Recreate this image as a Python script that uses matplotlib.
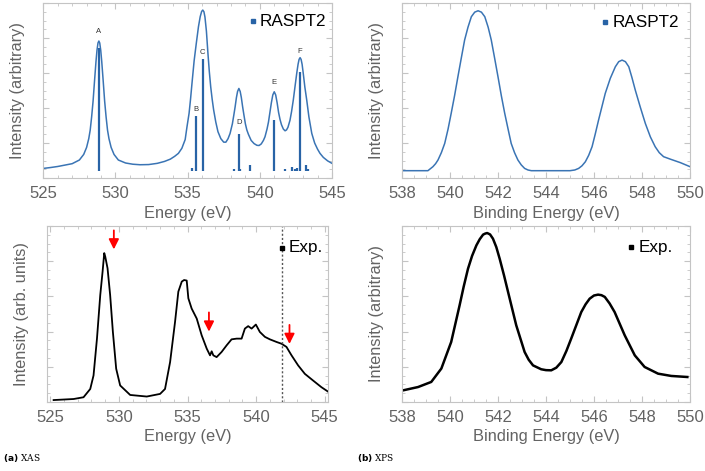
#%% Import necessary libraries
import matplotlib
matplotlib.use('Agg')
import matplotlib.pyplot as plt
from matplotlib.ticker import MultipleLocator, NullFormatter

plt.rcParams['font.family'] = ['Liberation Sans', 'DejaVu Sans']

#%% Data (y in arbitrary units, 0..1)
# (a) XAS - RASPT2 broadened spectrum
xas_calc_e = [525.0, 525.5, 526.0, 526.5, 527.0, 527.5, 527.8, 528.0, 528.15, 528.25,
              528.35, 528.45, 528.55, 528.65, 528.72, 528.79, 528.85, 528.91, 528.98,
              529.05, 529.15, 529.25, 529.35, 529.45, 529.55, 529.7, 529.9, 530.2,
              530.7, 531.2, 531.7, 532.3, 532.9, 533.4, 533.8, 534.1, 534.36, 534.6,
              534.83, 534.95, 535.1, 535.2, 535.3, 535.45, 535.6, 535.75, 535.87,
              535.97, 536.05, 536.13, 536.2, 536.3, 536.4, 536.5, 536.6, 536.7, 536.8,
              536.95, 537.1, 537.3, 537.5, 537.65, 537.8, 537.94, 538.1, 538.2, 538.29,
              538.38, 538.46, 538.55, 538.64, 538.72, 538.81, 538.9, 539.0, 539.1,
              539.21, 539.4, 539.6, 539.8, 539.95, 540.1, 540.25, 540.36, 540.5, 540.6,
              540.7, 540.8, 540.9, 541.0, 541.1, 541.2, 541.3, 541.4, 541.5, 541.63,
              541.75, 541.85, 541.95, 542.09, 542.2, 542.32, 542.45, 542.56, 542.65,
              542.72, 542.79, 542.86, 542.93, 543.01, 543.12, 543.25, 543.4, 543.6,
              543.8, 544.0, 544.17, 544.4, 544.7, 545.0]
xas_calc_i = [0.055, 0.060, 0.066, 0.074, 0.082, 0.103, 0.135, 0.175, 0.225, 0.274,
              0.350, 0.440, 0.555, 0.665, 0.730, 0.772, 0.783, 0.772, 0.730,
              0.665, 0.555, 0.440, 0.350, 0.274, 0.225, 0.175, 0.135, 0.103,
              0.086, 0.079, 0.076, 0.077, 0.084, 0.095, 0.108, 0.124, 0.141, 0.170,
              0.220, 0.290, 0.370, 0.450, 0.540, 0.670, 0.770, 0.865, 0.922,
              0.952, 0.960, 0.950, 0.920, 0.840, 0.720, 0.610, 0.520, 0.450, 0.390,
              0.320, 0.265, 0.225, 0.205, 0.205, 0.225, 0.255, 0.310, 0.360, 0.407,
              0.460, 0.495, 0.512, 0.495, 0.460, 0.407, 0.360, 0.310, 0.275,
              0.250, 0.215, 0.197, 0.187, 0.186, 0.195, 0.215, 0.236, 0.280, 0.320,
              0.375, 0.430, 0.475, 0.493, 0.475, 0.430, 0.375, 0.335, 0.305, 0.280,
              0.270, 0.275, 0.290, 0.330, 0.380, 0.446, 0.530, 0.600, 0.650,
              0.678, 0.688, 0.678, 0.650, 0.598, 0.520, 0.446, 0.350, 0.255,
              0.200, 0.165, 0.141, 0.118, 0.098, 0.084]

# stick spectrum
stick_e = [528.85, 535.29, 535.56, 536.05, 538.22, 538.56, 538.66, 539.33, 541.0,
           541.75, 542.21, 542.44, 542.56, 542.79, 543.20, 543.36]
stick_i = [0.741, 0.055, 0.354, 0.678, 0.050, 0.250, 0.052, 0.074, 0.331,
           0.050, 0.062, 0.052, 0.055, 0.607, 0.077, 0.050]
stick_base = 0.04

peak_names = ['A', 'B', 'C', 'D', 'E', 'F']
peak_e = [528.85, 535.56, 536.05, 538.56, 541.0, 542.79]
peak_lbl_y = [0.836, 0.394, 0.718, 0.318, 0.547, 0.726]

# (a) XAS - experiment
xas_exp_e = [525.24, 526.70, 527.42, 527.91, 528.15, 528.40, 528.64, 528.81, 528.93,
             529.00, 529.17, 529.36, 529.56, 529.80, 530.09, 530.82, 532.03, 533.00,
             533.36, 533.73, 534.09, 534.33, 534.58, 534.75, 534.94, 535.06, 535.30,
             535.67, 536.03, 536.40, 536.64, 536.76, 536.88, 537.12, 537.48, 537.85,
             538.21, 538.58, 538.94, 539.18, 539.42, 539.67, 539.98, 540.27, 540.64,
             541.00, 541.49, 541.85, 542.21, 542.58, 543.06, 543.55, 544.15, 544.76,
             545.24]
xas_exp_i = [0.011, 0.017, 0.027, 0.074, 0.151, 0.360, 0.608, 0.741, 0.846,
             0.827, 0.760, 0.608, 0.398, 0.189, 0.094, 0.040, 0.031, 0.046,
             0.074, 0.227, 0.455, 0.627, 0.684, 0.693, 0.690, 0.589, 0.531,
             0.474, 0.379, 0.303, 0.265, 0.288, 0.265, 0.255, 0.284, 0.322,
             0.356, 0.360, 0.360, 0.417, 0.431, 0.417, 0.440, 0.398, 0.370,
             0.356, 0.341, 0.331, 0.313, 0.265, 0.208, 0.160, 0.122, 0.084,
             0.059]
exp_edge = 541.85
arrow_e = [529.63, 536.56, 542.43]
arrow_top = [0.975, 0.509, 0.438]
arrow_bot = [0.867, 0.400, 0.330]

# (b) XPS - RASPT2
xps_calc_e = [538.0, 539.08, 539.29, 539.40, 539.50, 539.64, 539.78, 539.92, 540.05,
              540.19, 540.33, 540.47, 540.61, 540.75, 540.89, 541.03, 541.17, 541.31,
              541.45, 541.59, 541.72, 541.86, 542.00, 542.14, 542.28, 542.42, 542.55,
              542.69, 542.83, 542.97, 543.11, 543.25, 543.39, 545.0, 545.2, 545.36,
              545.5, 545.64, 545.78, 545.92, 546.05, 546.19, 546.47, 546.68, 546.89,
              547.03, 547.17, 547.31, 547.45, 547.58, 547.72, 547.93, 548.14, 548.35,
              548.55, 548.72, 548.90, 549.2, 549.6, 550.0]
xps_calc_i = [0.042, 0.042, 0.065, 0.082, 0.103, 0.145, 0.198, 0.280, 0.370,
              0.470, 0.579, 0.685, 0.789, 0.862, 0.922, 0.948, 0.956, 0.948,
              0.922, 0.862, 0.789, 0.685, 0.579, 0.470, 0.370, 0.280, 0.198,
              0.145, 0.103, 0.075, 0.055, 0.046, 0.042, 0.042, 0.046, 0.055,
              0.070, 0.093, 0.130, 0.179, 0.250, 0.331, 0.484, 0.570, 0.636,
              0.665, 0.674, 0.665, 0.636, 0.575, 0.503, 0.405, 0.312, 0.235,
              0.179, 0.145, 0.122, 0.107, 0.088, 0.065]

# (b) XPS - experiment
xps_exp_e = [538.04, 538.67, 539.22, 539.64, 540.05, 540.40, 540.57, 540.75, 540.92,
             541.10, 541.24, 541.38, 541.47, 541.55, 541.67, 541.79, 541.93, 542.07,
             542.25, 542.42, 542.76, 543.11, 543.28, 543.46, 543.80, 544.00, 544.22,
             544.43, 544.64, 544.85, 545.05, 545.47, 545.65, 545.82, 546.00, 546.17,
             546.31, 546.45, 546.65, 546.86, 547.07, 547.28, 547.70, 548.11, 548.67,
             549.22, 549.89]
xps_exp_i = [0.066, 0.085, 0.114, 0.190, 0.341, 0.549, 0.655, 0.757, 0.830,
             0.890, 0.925, 0.951, 0.957, 0.960, 0.952, 0.928, 0.880, 0.814,
             0.720, 0.625, 0.436, 0.284, 0.240, 0.208, 0.186, 0.181, 0.180,
             0.195, 0.227, 0.290, 0.360, 0.511, 0.555, 0.587, 0.605, 0.610,
             0.607, 0.597, 0.560, 0.511, 0.445, 0.379, 0.265, 0.199, 0.161,
             0.148, 0.142]

#%% Styling helpers
blue = '#3a74b4'
stick_blue = '#2863a6'
grey = '#636363'
frame = '#c4c4c4'


def style(ax, xlim, major, minor, xlabel, ylabel):
    ax.set_xlim(*xlim)
    ax.set_ylim(0, 1)
    ax.xaxis.set_major_locator(MultipleLocator(major))
    ax.xaxis.set_minor_locator(MultipleLocator(minor))
    ax.yaxis.set_major_locator(MultipleLocator(0.2))
    ax.yaxis.set_minor_locator(MultipleLocator(0.05))
    ax.yaxis.set_major_formatter(NullFormatter())
    for s in ax.spines.values():
        s.set_color(frame)
        s.set_linewidth(0.8)
    ax.tick_params(which='both', direction='in', top=True, right=True,
                   color=frame, labelcolor=grey, labelsize=12, pad=6)
    ax.tick_params(which='major', length=4)
    ax.tick_params(which='minor', length=2)
    ax.set_xlabel(xlabel, color=grey, fontsize=11.8, labelpad=3)
    ax.set_ylabel(ylabel, color=grey, fontsize=11.8, labelpad=7)


def legend_entry(ax, x, y, color, text):
    ax.plot([x], [y], 's', color=color, markersize=3.5, transform=ax.transAxes, clip_on=False)
    ax.text(x + 0.025, y, text, transform=ax.transAxes, fontsize=12.3,
            va='center', ha='left', color='black')


#%% Figure
fig = plt.figure(figsize=(7.05, 4.71), dpi=100)
ax1 = fig.add_axes([0.0614, 0.622, 0.4095, 0.3715])
ax2 = fig.add_axes([0.5702, 0.622, 0.4085, 0.3715])
ax3 = fig.add_axes([0.0667, 0.1465, 0.3986, 0.3737])
ax4 = fig.add_axes([0.5702, 0.1465, 0.4085, 0.3737])

# XAS calculated
ax1.plot(xas_calc_e, xas_calc_i, color=blue, lw=1.1)
ax1.vlines(stick_e, stick_base, stick_i, color=stick_blue, lw=1.6)
for n, e, y in zip(peak_names, peak_e, peak_lbl_y):
    ax1.text(e, y, n, ha='center', va='center', fontsize=5.5, color='#333333')
style(ax1, (525, 545), 5, 1, 'Energy (eV)', 'Intensity (arbitrary)')
legend_entry(ax1, 0.725, 0.895, stick_blue, 'RASPT2')

# XPS calculated
ax2.plot(xps_calc_e, xps_calc_i, color=blue, lw=1.1)
style(ax2, (538, 550), 2, 0.5, 'Binding Energy (eV)', 'Intensity (arbitrary)')
legend_entry(ax2, 0.705, 0.89, stick_blue, 'RASPT2')

# XAS experiment
ax3.plot(xas_exp_e, xas_exp_i, color='black', lw=1.3)
ax3.axvline(exp_edge, color='#555555', lw=1.0, ls=(0, (1.5, 1.5)))
for e, yt, yb in zip(arrow_e, arrow_top, arrow_bot):
    ax3.annotate('', xy=(e, yb), xytext=(e, yt),
                 arrowprops=dict(arrowstyle='-|>,head_width=0.3,head_length=0.6',
                                 color='red', lw=1.3, shrinkA=0, shrinkB=0))
style(ax3, (524.76, 545.24), 5, 1, 'Energy (eV)', 'Intensity (arb. units)')
legend_entry(ax3, 0.835, 0.875, 'black', 'Exp.')

# XPS experiment
ax4.plot(xps_exp_e, xps_exp_i, color='black', lw=1.8)
style(ax4, (538, 550), 2, 0.5, 'Binding Energy (eV)', 'Intensity (arbitrary)')
legend_entry(ax4, 0.796, 0.88, 'black', 'Exp.')

# panel captions
fig.text(0.004, 0.027, r'$\mathbf{(a)}$ XAS', fontsize=6.5, family='DejaVu Serif', va='center')
fig.text(0.506, 0.027, r'$\mathbf{(b)}$ XPS', fontsize=6.5, family='DejaVu Serif', va='center')

fig.savefig('out.png', dpi=100)
